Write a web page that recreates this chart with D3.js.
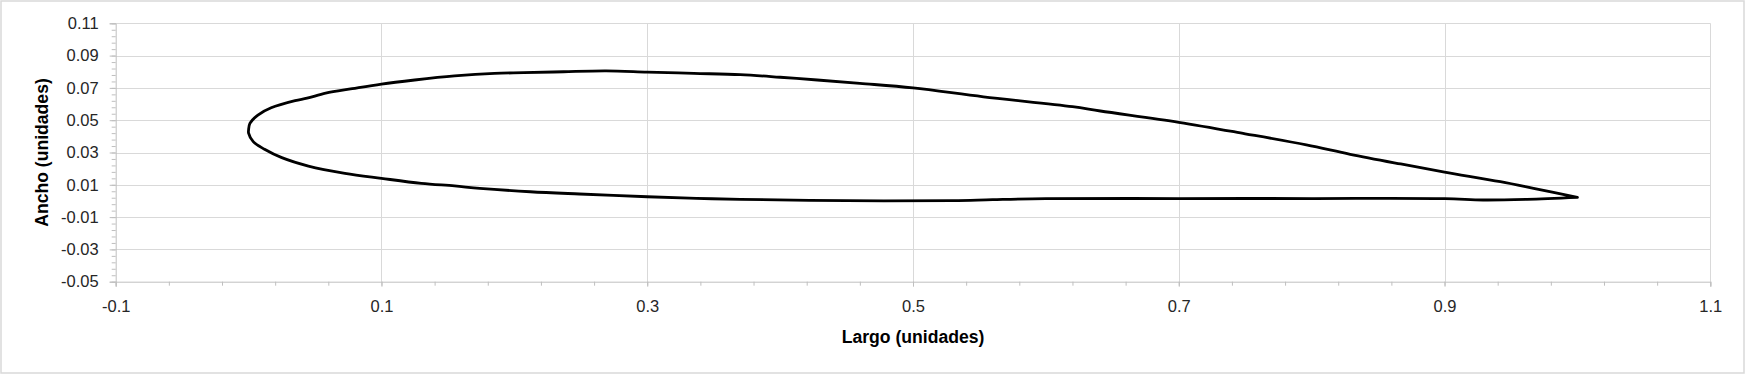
<!DOCTYPE html>
<html>
<head>
<meta charset="utf-8">
<script src="https://cdn.jsdelivr.net/npm/d3@7"></script>
<style>
  html, body { margin: 0; padding: 0; background: #fff; }
  svg { display: block; font-family: 'Liberation Sans', Arial, sans-serif; }
</style>
</head>
<body>
<svg id="chart" width="1746" height="375"></svg>
<script>
(function() {

  // upper surface, leading edge -> trailing edge
  var upperX = [0, 0.001, 0.007, 0.017, 0.035, 0.044, 0.058, 0.078, 0.1, 0.125, 0.155, 0.185,
    0.207, 0.237, 0.269, 0.3, 0.335, 0.37, 0.4, 0.428, 0.46, 0.5, 0.553, 0.62, 0.641, 0.7,
    0.75, 0.796, 0.829, 0.867, 0.9, 0.942, 0.967, 1.0];
  var upperY = [0.044, 0.048, 0.0532, 0.0577, 0.0621, 0.0636, 0.0667, 0.0695, 0.0724, 0.0749,
    0.0774, 0.079, 0.0794, 0.080, 0.0805, 0.0798, 0.079, 0.0782, 0.0766, 0.0749, 0.0728, 0.070,
    0.0645, 0.0584, 0.0557, 0.0487, 0.0416, 0.0347, 0.0289, 0.0229, 0.0179, 0.0119, 0.0078, 0.0022];

  // lower surface, leading edge -> trailing edge
  var lowerX = [0, 0.0035, 0.012, 0.025, 0.045, 0.0725, 0.1, 0.13, 0.155, 0.174, 0.212, 0.249,
    0.3, 0.337, 0.37, 0.45, 0.53, 0.56, 0.6, 0.7, 0.8, 0.9, 0.929, 0.962, 1.0];
  var lowerY = [0.042, 0.0367, 0.032, 0.0268, 0.0216, 0.0171, 0.014, 0.0109, 0.0093, 0.0078,
    0.0057, 0.0043, 0.0026, 0.0016, 0.001, 0.0002, 0.0002, 0.0008, 0.0014, 0.0015, 0.0015,
    0.0014, 0.0006, 0.001, 0.0022];

  var xTicks = [-0.1, 0.1, 0.3, 0.5, 0.7, 0.9, 1.1];
  var yTicks = [-0.05, -0.03, -0.01, 0.01, 0.03, 0.05, 0.07, 0.09, 0.11];

  var xTitle = 'Largo (unidades)';
  var yTitle = 'Ancho (unidades)';

  var W = 1746, H = 375;
  var plot = {left: 115.7, right: 1710.3, top: 23.3, bottom: 281.7};

  var svg = d3.select('#chart');

  // chart border
  svg.append('rect')
    .attr('x', 1).attr('y', 1)
    .attr('width', W - 3).attr('height', H - 3)
    .attr('fill', '#fff')
    .attr('stroke', '#d9d9d9')
    .attr('stroke-width', 1.5);

  var x = d3.scaleLinear().domain([-0.1, 1.1]).range([plot.left, plot.right]);
  var y = d3.scaleLinear().domain([-0.05, 0.11]).range([plot.bottom, plot.top]);

  var xMinor = d3.range(0, 31).map(function(i) { return -0.1 + i * 0.04; });
  var yMinor = d3.range(0, 41).map(function(i) { return -0.05 + i * 0.004; });

  // gridlines
  svg.append('g').selectAll('line.vg')
    .data(xTicks.slice(1))
    .enter().append('line')
    .attr('x1', function(d) { return Math.round(x(d)) + 0.5; })
    .attr('x2', function(d) { return Math.round(x(d)) + 0.5; })
    .attr('y1', plot.top).attr('y2', plot.bottom)
    .attr('stroke', '#d9d9d9').attr('stroke-width', 1);

  svg.append('g').selectAll('line.hg')
    .data(yTicks.slice(1))
    .enter().append('line')
    .attr('y1', function(d) { return Math.round(y(d)) + 0.5; })
    .attr('y2', function(d) { return Math.round(y(d)) + 0.5; })
    .attr('x1', plot.left).attr('x2', plot.right)
    .attr('stroke', '#d9d9d9').attr('stroke-width', 1);

  // minor ticks
  svg.append('g')
    .attr('transform', 'translate(0,' + plot.bottom + ')')
    .call(d3.axisBottom(x).tickValues(xMinor).tickSize(4).tickFormat(''))
    .call(function(g) { g.select('.domain').remove(); })
    .selectAll('line').attr('stroke', '#bfbfbf');

  svg.append('g')
    .attr('transform', 'translate(' + plot.left + ',0)')
    .call(d3.axisLeft(y).tickValues(yMinor).tickSize(4).tickFormat(''))
    .call(function(g) { g.select('.domain').remove(); })
    .selectAll('line').attr('stroke', '#bfbfbf');

  // major axes
  var xAxis = svg.append('g')
    .attr('transform', 'translate(0,' + plot.bottom + ')')
    .call(d3.axisBottom(x).tickValues(xTicks).tickSize(5).tickPadding(14)
      .tickFormat(function(d) { return d.toFixed(1); }));

  var yAxis = svg.append('g')
    .attr('transform', 'translate(' + plot.left + ',0)')
    .call(d3.axisLeft(y).tickValues(yTicks).tickSize(6).tickPadding(11)
      .tickFormat(function(d) { return d.toFixed(2); }));

  [xAxis, yAxis].forEach(function(a) {
    a.select('.domain').attr('stroke', '#bfbfbf');
    a.selectAll('line').attr('stroke', '#bfbfbf');
    a.selectAll('text')
      .attr('fill', '#262626')
      .style('font-size', '16.5px')
      .style('font-family', "'Liberation Sans', Arial, sans-serif");
  });

  // airfoil outline: trailing edge -> upper -> leading edge -> lower -> trailing edge
  var pts = [];
  for (var i = upperX.length - 1; i >= 0; i--) pts.push([upperX[i], upperY[i]]);
  for (var j = 0; j < lowerX.length; j++) pts.push([lowerX[j], lowerY[j]]);

  var line = d3.line()
    .x(function(d) { return x(d[0]); })
    .y(function(d) { return y(d[1]); })
    .curve(d3.curveCatmullRom.alpha(0.5));

  svg.append('path')
    .datum(pts)
    .attr('d', line)
    .attr('fill', 'none')
    .attr('stroke', '#000')
    .attr('stroke-width', 2.8)
    .attr('stroke-linejoin', 'round')
    .attr('stroke-linecap', 'round');

  // axis titles
  svg.append('text')
    .attr('x', (plot.left + plot.right) / 2)
    .attr('y', 342.5)
    .attr('text-anchor', 'middle')
    .attr('font-weight', 'bold')
    .attr('font-size', '17.6px')
    .attr('fill', '#000')
    .text(xTitle);

  svg.append('text')
    .attr('transform', 'translate(47.5,' + ((plot.top + plot.bottom) / 2) + ') rotate(-90)')
    .attr('text-anchor', 'middle')
    .attr('font-weight', 'bold')
    .attr('font-size', '17.6px')
    .attr('fill', '#000')
    .text(yTitle);

})();
</script>
</body>
</html>
